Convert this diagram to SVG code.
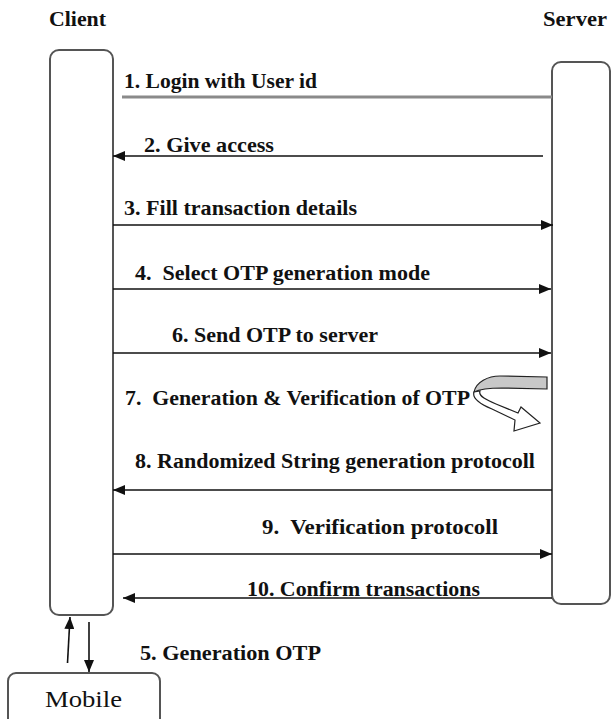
<svg xmlns="http://www.w3.org/2000/svg" width="611" height="719" viewBox="0 0 611 719" font-family="'Liberation Serif', 'DejaVu Serif', serif">
<style>
text{font-family:'Liberation Serif','DejaVu Serif',serif;}
.lbl{font-weight:bold;font-size:20px;fill:#111;}
.reg{font-size:23px;fill:#111;}
.box{fill:#fff;stroke:#555;stroke-width:2;}
.ln{stroke:#111;stroke-width:1.6;fill:none;}
</style>
<defs>
<marker id="ah" viewBox="0 0 12 10" refX="12" refY="5" markerWidth="12" markerHeight="10" markerUnits="userSpaceOnUse" orient="auto">
<path d="M0,0 L12,5 L0,10 Z" fill="#111"/>
</marker>
</defs>
<rect width="611" height="719" fill="#fff"/>
<g id="client">
<rect class="box" x="50" y="50" width="63" height="565" rx="9"/>
<text class="lbl" x="49" y="26" textLength="57" lengthAdjust="spacingAndGlyphs">Client</text>
</g>
<g id="server">
<rect class="box" x="552" y="62" width="58" height="542" rx="9" stroke="#333"/>
<text class="lbl" x="543" y="26" textLength="64" lengthAdjust="spacingAndGlyphs">Server</text>
</g>
<g id="mobile">
<rect class="box" x="8" y="673" width="152" height="60" rx="8" stroke="#444"/>
<text class="reg" x="45" y="707" textLength="77" lengthAdjust="spacingAndGlyphs">Mobile</text>
</g>
<g id="connectors">
<line x1="122" y1="97" x2="552" y2="97" stroke="#8a8a8a" stroke-width="3"/>
<line class="ln" x1="543" y1="156" x2="113" y2="156" marker-end="url(#ah)"/>
<line class="ln" x1="113" y1="225" x2="553" y2="225" marker-end="url(#ah)"/>
<line class="ln" x1="113" y1="289" x2="551" y2="289" marker-end="url(#ah)"/>
<line class="ln" x1="113" y1="353" x2="551" y2="353" marker-end="url(#ah)"/>
<line class="ln" x1="552" y1="490" x2="113" y2="490" marker-end="url(#ah)"/>
<line class="ln" x1="113" y1="554" x2="552" y2="554" marker-end="url(#ah)"/>
<line class="ln" x1="552" y1="598" x2="123" y2="598" marker-end="url(#ah)"/>
<line class="ln" x1="67.5" y1="663" x2="70" y2="617" marker-end="url(#ah)"/>
<line class="ln" x1="89" y1="622" x2="89" y2="672" marker-end="url(#ah)"/>
<path d="M547,377 L500,376 C488,376 476,382 474,392 C478,390 488,388 502,388 L547,389 Z" fill="#c8c8c8" stroke="#222" stroke-width="1.2"/>
<path d="M474,392 C472,398 480,404 492,409 L515,420 L514,431 L540,423 L521,407 L518,413 L496,404 C486,400 478,396 480,391 Z" fill="#fff" stroke="#222" stroke-width="1.2"/>
</g>
<g id="labels">
<text class="lbl" x="124" y="88" textLength="193" lengthAdjust="spacingAndGlyphs">1. Login with User id</text>
<text class="lbl" x="144" y="152" textLength="130" lengthAdjust="spacingAndGlyphs">2. Give access</text>
<text class="lbl" x="124" y="215" textLength="233" lengthAdjust="spacingAndGlyphs">3. Fill transaction details</text>
<text class="lbl" x="135" y="280" textLength="295" lengthAdjust="spacingAndGlyphs" xml:space="preserve">4.  Select OTP generation mode</text>
<text class="lbl" x="172" y="342" textLength="206" lengthAdjust="spacingAndGlyphs">6. Send OTP to server</text>
<text class="lbl" x="125" y="405" textLength="345" lengthAdjust="spacingAndGlyphs" xml:space="preserve">7.  Generation &amp; Verification of OTP</text>
<text class="lbl" x="135" y="468" textLength="400" lengthAdjust="spacingAndGlyphs">8. Randomized String generation protocoll</text>
<text class="lbl" x="262" y="534" textLength="236" lengthAdjust="spacingAndGlyphs" xml:space="preserve">9.  Verification protocoll</text>
<text class="lbl" x="247" y="596" textLength="233" lengthAdjust="spacingAndGlyphs">10. Confirm transactions</text>
<text class="lbl" x="140" y="660" textLength="181" lengthAdjust="spacingAndGlyphs">5. Generation OTP</text>
</g>
</svg>
